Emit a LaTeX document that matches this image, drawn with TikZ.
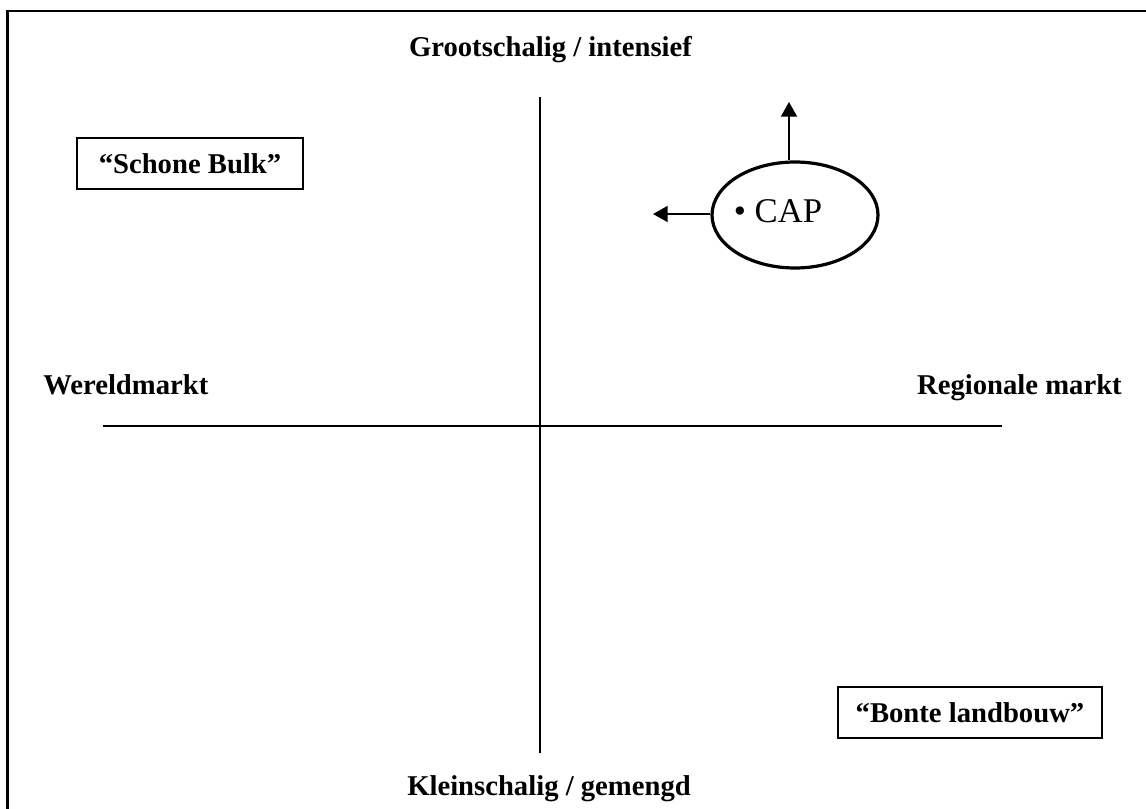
\documentclass[tikz,border=0pt]{standalone}
\usepackage{fontspec}
\setmainfont{Liberation Serif}
\usetikzlibrary{shapes.geometric,arrows.meta}

\tikzset{
  axislabel/.style={font=\bfseries\fontsize{21.5}{26}\selectfont,inner sep=0pt},
  labelbox/.style={draw,line width=1pt,font=\bfseries\fontsize{21.5}{26}\selectfont,inner sep=0pt},
  shiftarrow/.style={line width=1.4pt,-{Triangle[length=11pt,width=12pt]}}
}

\begin{document}
\begin{tikzpicture}[x=0.75pt,y=-0.75pt]
  \useasboundingbox (0,0) rectangle (1146,809);
  % frame
  \draw[line width=1.6pt] (7.5,809) -- (7.5,11) -- (1146,11);
  % axes
  \coordinate (west) at (103,426);
  \coordinate (east) at (1002,426);
  \coordinate (top) at (540,97);
  \coordinate (bot) at (540,753);
  \draw[line width=1pt] (west) -- (east);
  \draw[line width=1pt] (top) -- (bot);
  % axis labels
  \node[axislabel,anchor=base] (gi) at (550.5,57) {Grootschalig / intensief};
  \node[axislabel,anchor=base] (kg) at (549,795) {Kleinschalig / gemengd};
  \node[axislabel,anchor=base west] (wm) at (43,394) {Wereldmarkt};
  \node[axislabel,anchor=base east] (rm) at (1122,394) {Regionale markt};
  % scenarios
  \node[labelbox,minimum width=169.5pt,minimum height=38.25pt] (sb) at (190,163.5) {``Schone Bulk''};
  \node[labelbox,minimum width=198pt,minimum height=38.25pt] (bl) at (970,712.5) {``Bonte landbouw''};
  % CAP
  \node[ellipse,draw,line width=2.4pt,minimum width=124.5pt,minimum height=79.5pt,inner sep=0pt] (cap) at (795,215) {};
  \node[anchor=base,inner sep=0pt,font=\fontsize{26}{30}\selectfont] (captext) at (778,223) {\textbullet\ CAP};
  \coordinate (up) at (789,102);
  \coordinate (left) at (653,214);
  \draw[shiftarrow] (up |- cap.north) -- (up);
  \draw[shiftarrow] (cap.west |- left) -- (left);
\end{tikzpicture}
\end{document}
